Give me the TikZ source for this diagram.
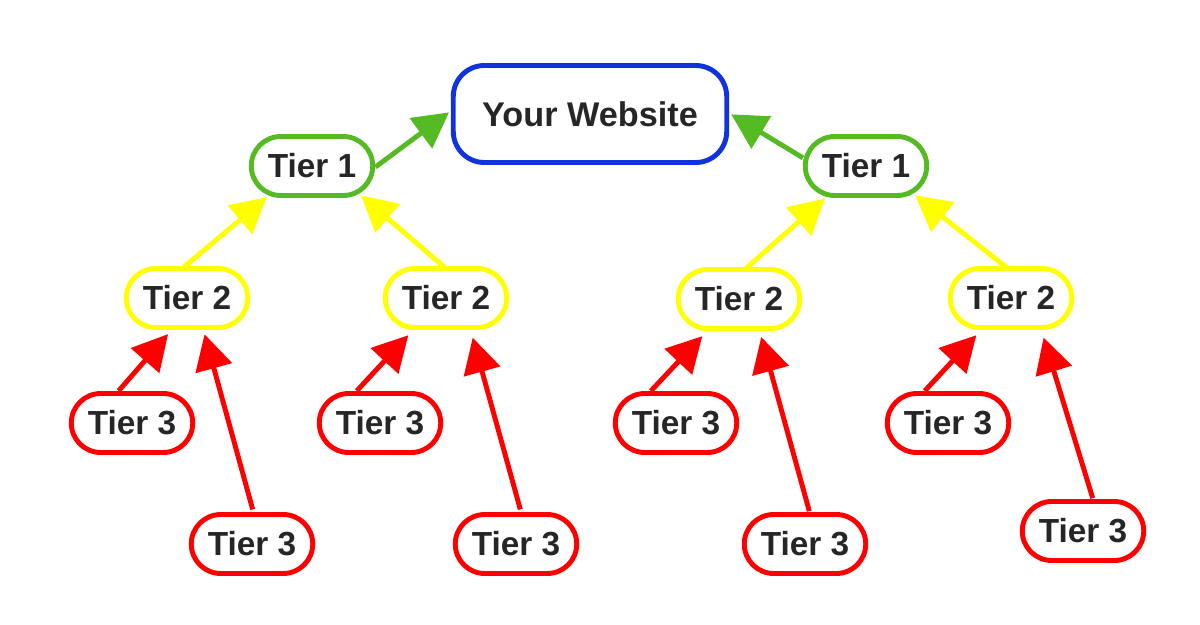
\documentclass[tikz,border=0pt]{standalone}
\usepackage{fontspec}
\setmainfont{Liberation Sans}
\usepackage{xcolor}
\usetikzlibrary{arrows.meta,shapes.misc}
\definecolor{tierBlue}{HTML}{1133DD}
\definecolor{tierGreen}{HTML}{55BB22}
\definecolor{tierYellow}{HTML}{FFFF00}
\definecolor{tierRed}{HTML}{FF0000}
\tikzset{
tier/.style = {rounded rectangle, draw=#1, line width=2.8pt, outer sep=0pt, inner sep=0pt,
               minimum width=2.43cm, minimum height=1.18cm, text=black!85,
               font=\fontsize{19}{22}\selectfont\bfseries},
site/.style = {rectangle, rounded corners=0.62cm, draw=tierBlue, line width=2.8pt, outer sep=0pt,
               minimum width=5.47cm, minimum height=1.94cm, text=black!85,
               font=\fontsize{19.5}{22}\selectfont\bfseries},
link/.style = {draw=#1, line width=2.8pt, -{Triangle[length=20pt, width=21pt]}}
}

\begin{document}
\begin{tikzpicture}[x=0.02cm,y=-0.02cm]
\useasboundingbox (0,0) rectangle (1200,625);

\node[site] (web) at (590,114) {Your Website};
\node[tier=tierGreen] (oneL) at (312,166) {Tier 1};
\node[tier=tierGreen] (oneR) at (866,166) {Tier 1};
\node[tier=tierYellow] (twoA) at (187,298) {Tier 2};
\node[tier=tierYellow] (twoB) at (446,298) {Tier 2};
\node[tier=tierYellow] (twoC) at (739,299) {Tier 2};
\node[tier=tierYellow] (twoD) at (1011,298) {Tier 2};
\node[tier=tierRed] (threeA) at (132,423) {Tier 3};
\node[tier=tierRed] (threeB) at (252,544) {Tier 3};
\node[tier=tierRed] (threeC) at (380,423) {Tier 3};
\node[tier=tierRed] (threeD) at (516,544) {Tier 3};
\node[tier=tierRed] (threeE) at (676,423) {Tier 3};
\node[tier=tierRed] (threeF) at (805,544) {Tier 3};
\node[tier=tierRed] (threeG) at (948,423) {Tier 3};
\node[tier=tierRed] (threeH) at (1083,531) {Tier 3};

\draw[link=tierGreen, shorten <=2pt, shorten >=3pt] (oneL.-3) -- (web.178.5);
\draw[link=tierGreen, shorten <=2pt, shorten >=3pt] (oneR.174) -- (web.1.4);

\draw[link=tierYellow, shorten <=1pt, shorten >=3pt] (twoA.99) -- (oneL.214);
\draw[link=tierYellow, shorten <=1pt, shorten >=3pt] (twoB.north) -- (oneL.330);
\draw[link=tierYellow, shorten <=1pt, shorten >=3pt] (twoC.79) -- (oneR.218);
\draw[link=tierYellow, shorten <=1pt, shorten >=3pt] (twoD.96) -- (oneR.330);

\draw[link=tierRed, shorten <=2pt, shorten >=5pt] (threeA.118) -- (twoA.246);
\draw[link=tierRed, shorten <=3pt, shorten >=4pt] (threeB.86) -- (twoA.298);
\draw[link=tierRed, shorten <=2pt, shorten >=6pt] (threeC.131) -- (twoB.224);
\draw[link=tierRed, shorten <=3pt, shorten >=6pt] (threeD.79) -- (twoB.309);
\draw[link=tierRed, shorten <=2pt, shorten >=6pt] (threeE.133) -- (twoC.225);
\draw[link=tierRed, shorten <=2pt, shorten >=5pt] (threeF.80) -- (twoC.304);
\draw[link=tierRed, shorten <=2pt, shorten >=6pt] (threeG.131) -- (twoD.227);
\draw[link=tierRed, shorten <=2pt, shorten >=6pt] (threeH.70) -- (twoD.315);
\end{tikzpicture}
\end{document}
